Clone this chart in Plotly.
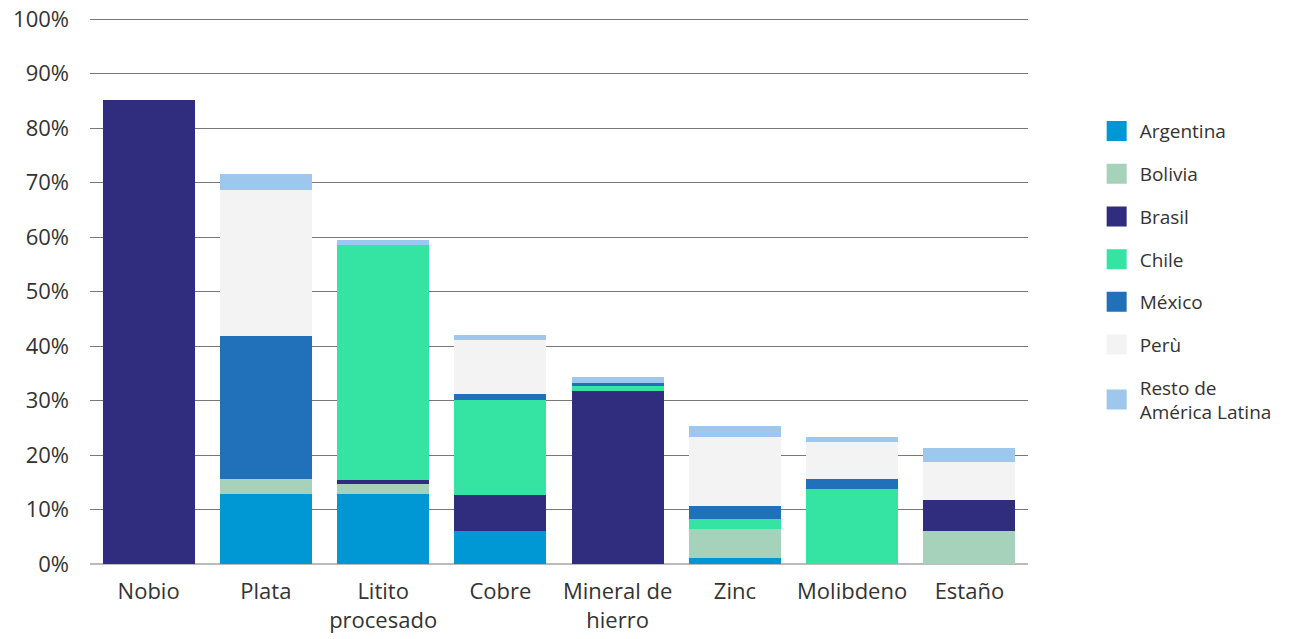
import plotly.graph_objects as go

categories = ["Nobio", "Plata", "Litito<br>procesado", "Cobre", "Mineral de<br>hierro", "Zinc", "Molibdeno", "Estaño"]

argentina = [0, 12.8, 12.8, 6.1, 0, 1.1, 0, 0]
bolivia = [0, 2.8, 1.9, 0, 0, 5.3, 0, 6.1]
brasil = [85.1, 0, 0.7, 6.6, 31.7, 0, 0, 5.6]
chile = [0, 0, 43.1, 17.4, 1.0, 1.9, 13.8, 0]
mexico = [0, 26.2, 0, 1.1, 0.5, 2.3, 1.8, 0]
peru = [0, 26.8, 0, 9.9, 0, 12.7, 6.8, 7.0]
resto = [0, 3.0, 0.9, 0.9, 1.1, 2.0, 0.9, 2.6]

tick_values = [0, 10, 20, 30, 40, 50, 60, 70, 80, 90, 100]
tick_labels = [f"{v}%" for v in tick_values]

series = [
    ("Argentina", argentina, "#0098D4"),
    ("Bolivia", bolivia, "#A6D2BB"),
    ("Brasil", brasil, "#302C7E"),
    ("Chile", chile, "#35E3A3"),
    ("México", mexico, "#2071B9"),
    ("Perù", peru, "#F3F3F3"),
    ("Resto de<br>América Latina", resto, "#9DC7ED"),
]

fig = go.Figure()
for i, (name, vals, color) in enumerate(series):
    fig.add_trace(go.Bar(
        x=categories, y=vals, name=name, marker=dict(color=color, line=dict(width=0)),
        legendgroup=f"g{i}", showlegend=False,
    ))
# legend entries (larger square swatches)
for i, (name, vals, color) in enumerate(series):
    fig.add_trace(go.Scatter(
        x=[None], y=[None], mode="markers", name=name,
        marker=dict(symbol="square", size=20, color=color, line=dict(color=color, width=4)),
        legendgroup=f"g{i}", showlegend=True, hoverinfo="skip",
    ))

font_family = "'Open Sans', sans-serif"
fig.update_layout(
    barmode="stack",
    bargap=0.215,
    width=1296, height=639,
    margin=dict(l=90, r=268, t=17, b=75),
    plot_bgcolor="white", paper_bgcolor="white",
    font=dict(family=font_family, size=22, color="#333333"),
    legend=dict(
        x=1.07, xanchor="left", y=0.826, yanchor="top",
        traceorder="grouped", tracegroupgap=15,
        font=dict(size=19, color="#333333"),
        itemsizing="trace", itemwidth=36,
    ),
    xaxis=dict(showgrid=False, ticks="", tickfont=dict(size=22), ticklabelstandoff=12,
               automargin=False),
    yaxis=dict(
        range=[0, 100.4], tickmode="array", tickvals=tick_values, ticktext=tick_labels,
        showgrid=True, gridcolor="#777777", gridwidth=1,
        zeroline=True, zerolinecolor="#BBBBBB", zerolinewidth=2,
        ticklabelstandoff=20, tickfont=dict(size=22), automargin=False,
    ),
)

fig.write_html("out.html")
